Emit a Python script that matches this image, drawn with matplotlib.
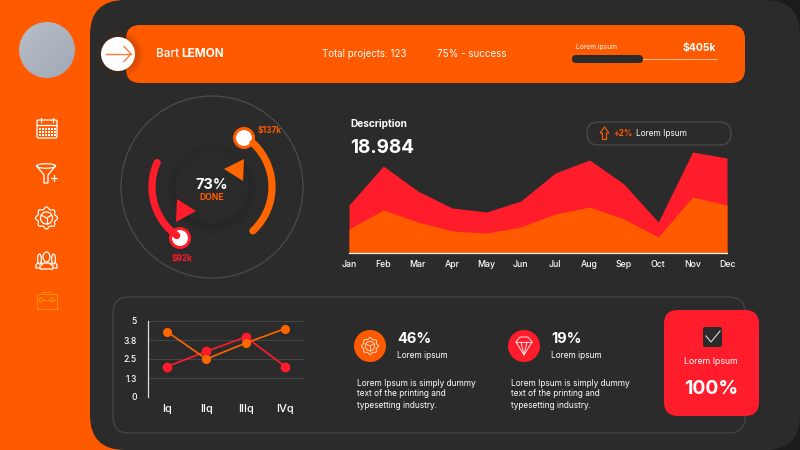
import numpy as np
import matplotlib.pyplot as plt
from matplotlib.patches import Circle, Ellipse, FancyBboxPatch, Polygon, Rectangle

plt.rcParams['font.family'] = ['Inter', 'DejaVu Sans']

ORANGE = '#FF5A00'
RED = '#FF1C2B'
PANEL = '#2B2B2B'
WHITE = '#FFFFFF'

# area chart
months = ['Jan', 'Feb', 'Mar', 'Apr', 'May', 'Jun', 'Jul', 'Aug', 'Sep', 'Oct', 'Nov', 'Dec']
area_red = [48, 87, 62, 45, 41, 52, 80, 93, 69, 31, 101, 95]
area_orange = [24, 43, 31, 22, 20, 26, 39, 46, 34, 16, 56, 48]

# line chart
quarters = ['Iq', 'IIq', 'IIIq', 'IVq']
line_red = [2, 3, 3.95, 2]
line_orange = [4.3, 2.5, 3.55, 4.5]
line_ticks = [0, 1.25, 2.5, 3.75, 5]
line_tick_labels = ['0', '1.3', '2.5', '3.8', '5']

# gauge arcs, in degrees
gauge_orange = (-47, 47)
gauge_red = (156, 234)

fig = plt.figure(figsize=(8, 4.5), dpi=100, facecolor=ORANGE)
bg = fig.add_axes([0, 0, 1, 1])
bg.set_xlim(0, 800)
bg.set_ylim(450, 0)
bg.axis('off')


def round_box(x0, y0, x1, y1, r, **kw):
    p = FancyBboxPatch((x0 + r, y0 + r), x1 - x0 - 2 * r, y1 - y0 - 2 * r,
                       boxstyle='round,pad=%f,rounding_size=%f' % (r, r), **kw)
    bg.add_patch(p)
    return p


def label(x, y, s, size=6.5, color=WHITE, weight='normal', ha='left'):
    bg.text(x, y, s, fontsize=size, color=color, fontweight=weight, ha=ha, va='center')


def stroke(xs, ys, color=WHITE, lw=0.9):
    bg.plot(xs, ys, color=color, lw=lw, solid_capstyle='round', solid_joinstyle='round')


def gear(cx, cy, r, color=WHITE, lw=0.9):
    t = np.linspace(0, 2 * np.pi, 240)
    rr = r * (0.9 + 0.1 * np.cos(8 * t))
    stroke(cx + rr * np.cos(t), cy + rr * np.sin(t), color, lw)
    bg.add_patch(Circle((cx, cy), r * 0.55, fill=False, ec=color, lw=lw))
    stroke([cx - r * 0.45, cx, cx + r * 0.45], [cy - r * 0.25, cy, cy - r * 0.25], color, lw)
    stroke([cx, cx], [cy, cy + r * 0.55], color, lw)


def person(cx, top, bottom, w, z):
    # shoulders plus head, filled so the one in front hides the ones behind
    body = [(cx - w, bottom), (cx - w, bottom - 3), (cx - w * 0.4, bottom - 6),
            (cx + w * 0.4, bottom - 6), (cx + w, bottom - 3), (cx + w, bottom)]
    bg.add_patch(Polygon(body, closed=True, fc=ORANGE, ec=WHITE, lw=0.9, zorder=z))
    bg.add_patch(Ellipse((cx, top + 5), w * 1.05, 10, fc=ORANGE, ec=WHITE, lw=0.9, zorder=z))


# backgrounds
bg.add_patch(Rectangle((400, 0), 400, 450, fc='#1C1C1C', ec='none'))
round_box(90, 0, 800, 450, 35, fc=PANEL, ec='none')

# sidebar avatar
av = bg.imshow(np.linspace(0, 1, 64).reshape(1, -1) + np.linspace(0, 1, 64).reshape(-1, 1),
               extent=(19, 75, 78, 22), cmap=plt.cm.colors.LinearSegmentedColormap.from_list('a', ['#B8BEC8', '#A0A9B4']),
               aspect='auto', zorder=2)
av.set_clip_path(Circle((47, 50), 28, transform=bg.transData))
bg.set_xlim(0, 800)
bg.set_ylim(450, 0)

# sidebar icons
round_box(37, 120, 57, 138, 1.5, fc='none', ec=WHITE, lw=0.9)
stroke([37, 57], [124.5, 124.5])
stroke([41, 41], [118, 122])
stroke([53, 53], [118, 122])
for yy in (127.5, 130.5, 133.5):
    for xx in range(39, 55, 3):
        bg.add_patch(Rectangle((xx, yy), 2.2, 2, fc=WHITE, ec='none'))
bg.add_patch(Ellipse((46, 166), 19, 4.5, fc='none', ec=WHITE, lw=0.9))
stroke([36.5, 44, 44, 48, 48, 55.5], [166, 175, 183, 183, 175, 166])
stroke([51, 57], [178, 178])
stroke([54, 54], [175, 181])
gear(46.5, 218, 11)
person(39.5, 254, 268, 3.5, 2)
person(53.5, 254, 268, 3.5, 2)
person(46.5, 252, 269, 6.5, 3)
tan = '#FF8C00'
bg.add_patch(Rectangle((36.5, 294), 20, 15, fc='none', ec=tan, lw=0.8))
stroke([42, 42, 51, 51], [294, 292, 292, 294], tan, 0.8)
stroke([36.5, 56.5], [300, 300], tan, 0.8)
for xx in (41, 52):
    bg.add_patch(Circle((xx, 300), 1.8, fc=ORANGE, ec=tan, lw=0.8, zorder=3))

# header bar
round_box(126, 25, 745, 83, 14, fc=ORANGE, ec='none')
for i in range(6):
    bg.add_patch(Circle((120, 54), 17 + i * 1.3, fc='#7A2A00', ec='none', alpha=0.05))
bg.add_patch(Circle((118, 54), 17, fc=WHITE, ec='none', zorder=3))
bg.plot([106, 131], [54, 54], color='#FF7A3D', lw=1, zorder=4)
bg.plot([124, 131, 124], [46.5, 54, 61.5], color='#FF7A3D', lw=1, zorder=4)
label(156, 54, 'Bart', 8.5, weight='medium')
label(181, 54, 'LEMON', 8.5, weight='bold')
label(322, 54, 'Total projects: 123', 7)
label(437, 54, '75% - success', 7.1)
label(576, 47.5, 'Lorem ipsum', 4.8)
label(716, 48.5, '$405k', 7.5, weight='bold', ha='right')
stroke([640, 717], [58.5, 58.5], '#FFB48A', 0.8)
round_box(572, 55, 643, 63, 4, fc='#2B2B2B', ec='none', zorder=3)

# gauge
bg.add_patch(Circle((212, 187), 91, fill=False, ec='#4C4C4C', lw=0.9))
for i in range(6):
    bg.add_patch(Circle((212, 189), 37 + i * 1.6, fc='#1A1A1A', ec='none', alpha=0.06))
bg.add_patch(Circle((212, 187), 37, fc='#2A2A2A', ec='none'))
bg.add_patch(Circle((244, 138), 9.5, fc=WHITE, ec=ORANGE, lw=2.2, zorder=3))
bg.add_patch(Circle((180, 238), 9.5, fc=WHITE, ec=RED, lw=2.2, zorder=3))


def gauge_arc(a0, a1, color):
    t = np.radians(np.linspace(a0, a1, 80))
    bg.plot(212 + 60 * np.cos(t), 187 - 60 * np.sin(t), color=color, lw=5.2,
            solid_capstyle='round', zorder=4)


gauge_arc(gauge_orange[0], gauge_orange[1], '#FF6600')
gauge_arc(gauge_red[0], gauge_red[1], RED)
bg.add_patch(Polygon([(224, 169), (244, 159), (243, 181)], fc='#FF6600', ec='none'))
bg.add_patch(Polygon([(177, 199), (196, 211), (176, 222)], fc=RED, ec='none'))
label(212, 185, '73%', 10.5, weight='bold', ha='center')
label(212, 198, 'DONE', 6.2, ORANGE, 'bold', 'center')
label(258, 131, '$137k', 6, ORANGE, 'bold')
label(182, 259, '$92k', 6, RED, 'bold', 'center')

# area chart
ax = fig.add_axes([349 / 800, 1 - 253 / 450, 378 / 800, 110 / 450], facecolor='none')
ax.fill_between(range(12), area_red, color=RED, lw=0)
ax.fill_between(range(12), area_orange, color=ORANGE, lw=0)
ax.set_xlim(0, 11)
ax.set_ylim(0, 110)
ax.set_yticks([])
ax.set_xticks(range(12))
ax.set_xticklabels(months, fontsize=6.3, color=WHITE, fontweight='medium')
ax.tick_params(axis='x', length=0, pad=5)
for s in ('top', 'left', 'right'):
    ax.spines[s].set_visible(False)
ax.spines['bottom'].set_color(WHITE)
ax.spines['bottom'].set_linewidth(0.9)

label(350, 124, 'Description', 7.3, weight='bold')
label(350, 148, '18.984', 13.6, weight='bold')
round_box(587, 122, 731, 145, 11, fc='none', ec='#4C4C4C', lw=0.9)
bg.add_patch(Polygon([(604.5, 127), (609, 133), (606.5, 133), (606.5, 139.5), (602.5, 139.5), (602.5, 133), (600, 133)],
                     fc='none', ec=ORANGE, lw=0.8))
label(613, 134, '+2%', 6, ORANGE, 'bold')
label(636, 134, 'Lorem Ipsum', 6)

# bottom panel
round_box(113, 297, 745, 433, 16, fc='none', ec='#464646', lw=0.9)

# line chart
lx = fig.add_axes([148 / 800, 1 - 397 / 450, 157 / 800, 76 / 450], facecolor='none')
lx.plot(quarters, line_red, color=RED, lw=1.2, marker='o', ms=6)
lx.plot(quarters, line_orange, color='#FF6600', lw=1.2, marker='o', ms=5.5)
lx.set_xlim(-0.48, 3.5)
lx.set_ylim(0, 5)
lx.set_yticks(line_ticks)
lx.set_yticklabels(line_tick_labels, fontsize=6.2, color=WHITE, fontweight='medium')
lx.tick_params(axis='y', length=0, pad=8)
lx.tick_params(axis='x', length=0, pad=5, labelsize=8, labelcolor=WHITE)
for t in lx.get_xticklabels():
    t.set_fontweight('medium')
lx.grid(axis='y', color='#464646', lw=0.7)
lx.set_axisbelow(True)
for s in ('top', 'right', 'bottom'):
    lx.spines[s].set_visible(False)
lx.spines['left'].set_color('#DDDDDD')
lx.spines['left'].set_linewidth(0.9)

# stat blocks
bg.add_patch(Circle((370, 346), 16, fc=ORANGE, ec='none'))
gear(370, 346, 8.5, '#FFD9C4', 0.7)
bg.add_patch(Circle((524, 346), 16, fc=RED, ec='none'))
dc = '#FFE0E0'
stroke([516, 520, 528, 532, 524, 516], [342, 337, 337, 342, 355, 342], dc, 0.7)
stroke([516, 532], [342, 342], dc, 0.7)
stroke([521, 524, 527], [342, 355, 342], dc, 0.7)
label(397, 339, '46%', 10.5, weight='bold')
label(397, 355, 'Lorem ipsum', 6)
label(551, 339, '19%', 10.5, weight='bold')
label(551, 355, 'Lorem ipsum', 6)
para = ['Lorem Ipsum is simply dummy', 'text of the printing and', 'typesetting industry.']
for i, s in enumerate(para):
    label(357, 383 + i * 11, s, 6)
    label(511, 383 + i * 11, s, 6)

# red card
round_box(664, 310, 759, 416, 14, fc=RED, ec='none', zorder=3)
round_box(703, 327, 722, 347, 2, fc='#2B2B2B', ec='none', zorder=4)
bg.plot([706, 711, 720], [336, 342, 331], color='#DDDDDD', lw=0.8, zorder=5)
bg.text(711, 362, 'Lorem Ipsum', fontsize=6.3, color=WHITE, ha='center', va='center', zorder=5)
bg.text(711, 389, '100%', fontsize=14, color=WHITE, ha='center', va='center', fontweight='bold', zorder=5)

fig.savefig('out.png', dpi=100, facecolor=ORANGE)
